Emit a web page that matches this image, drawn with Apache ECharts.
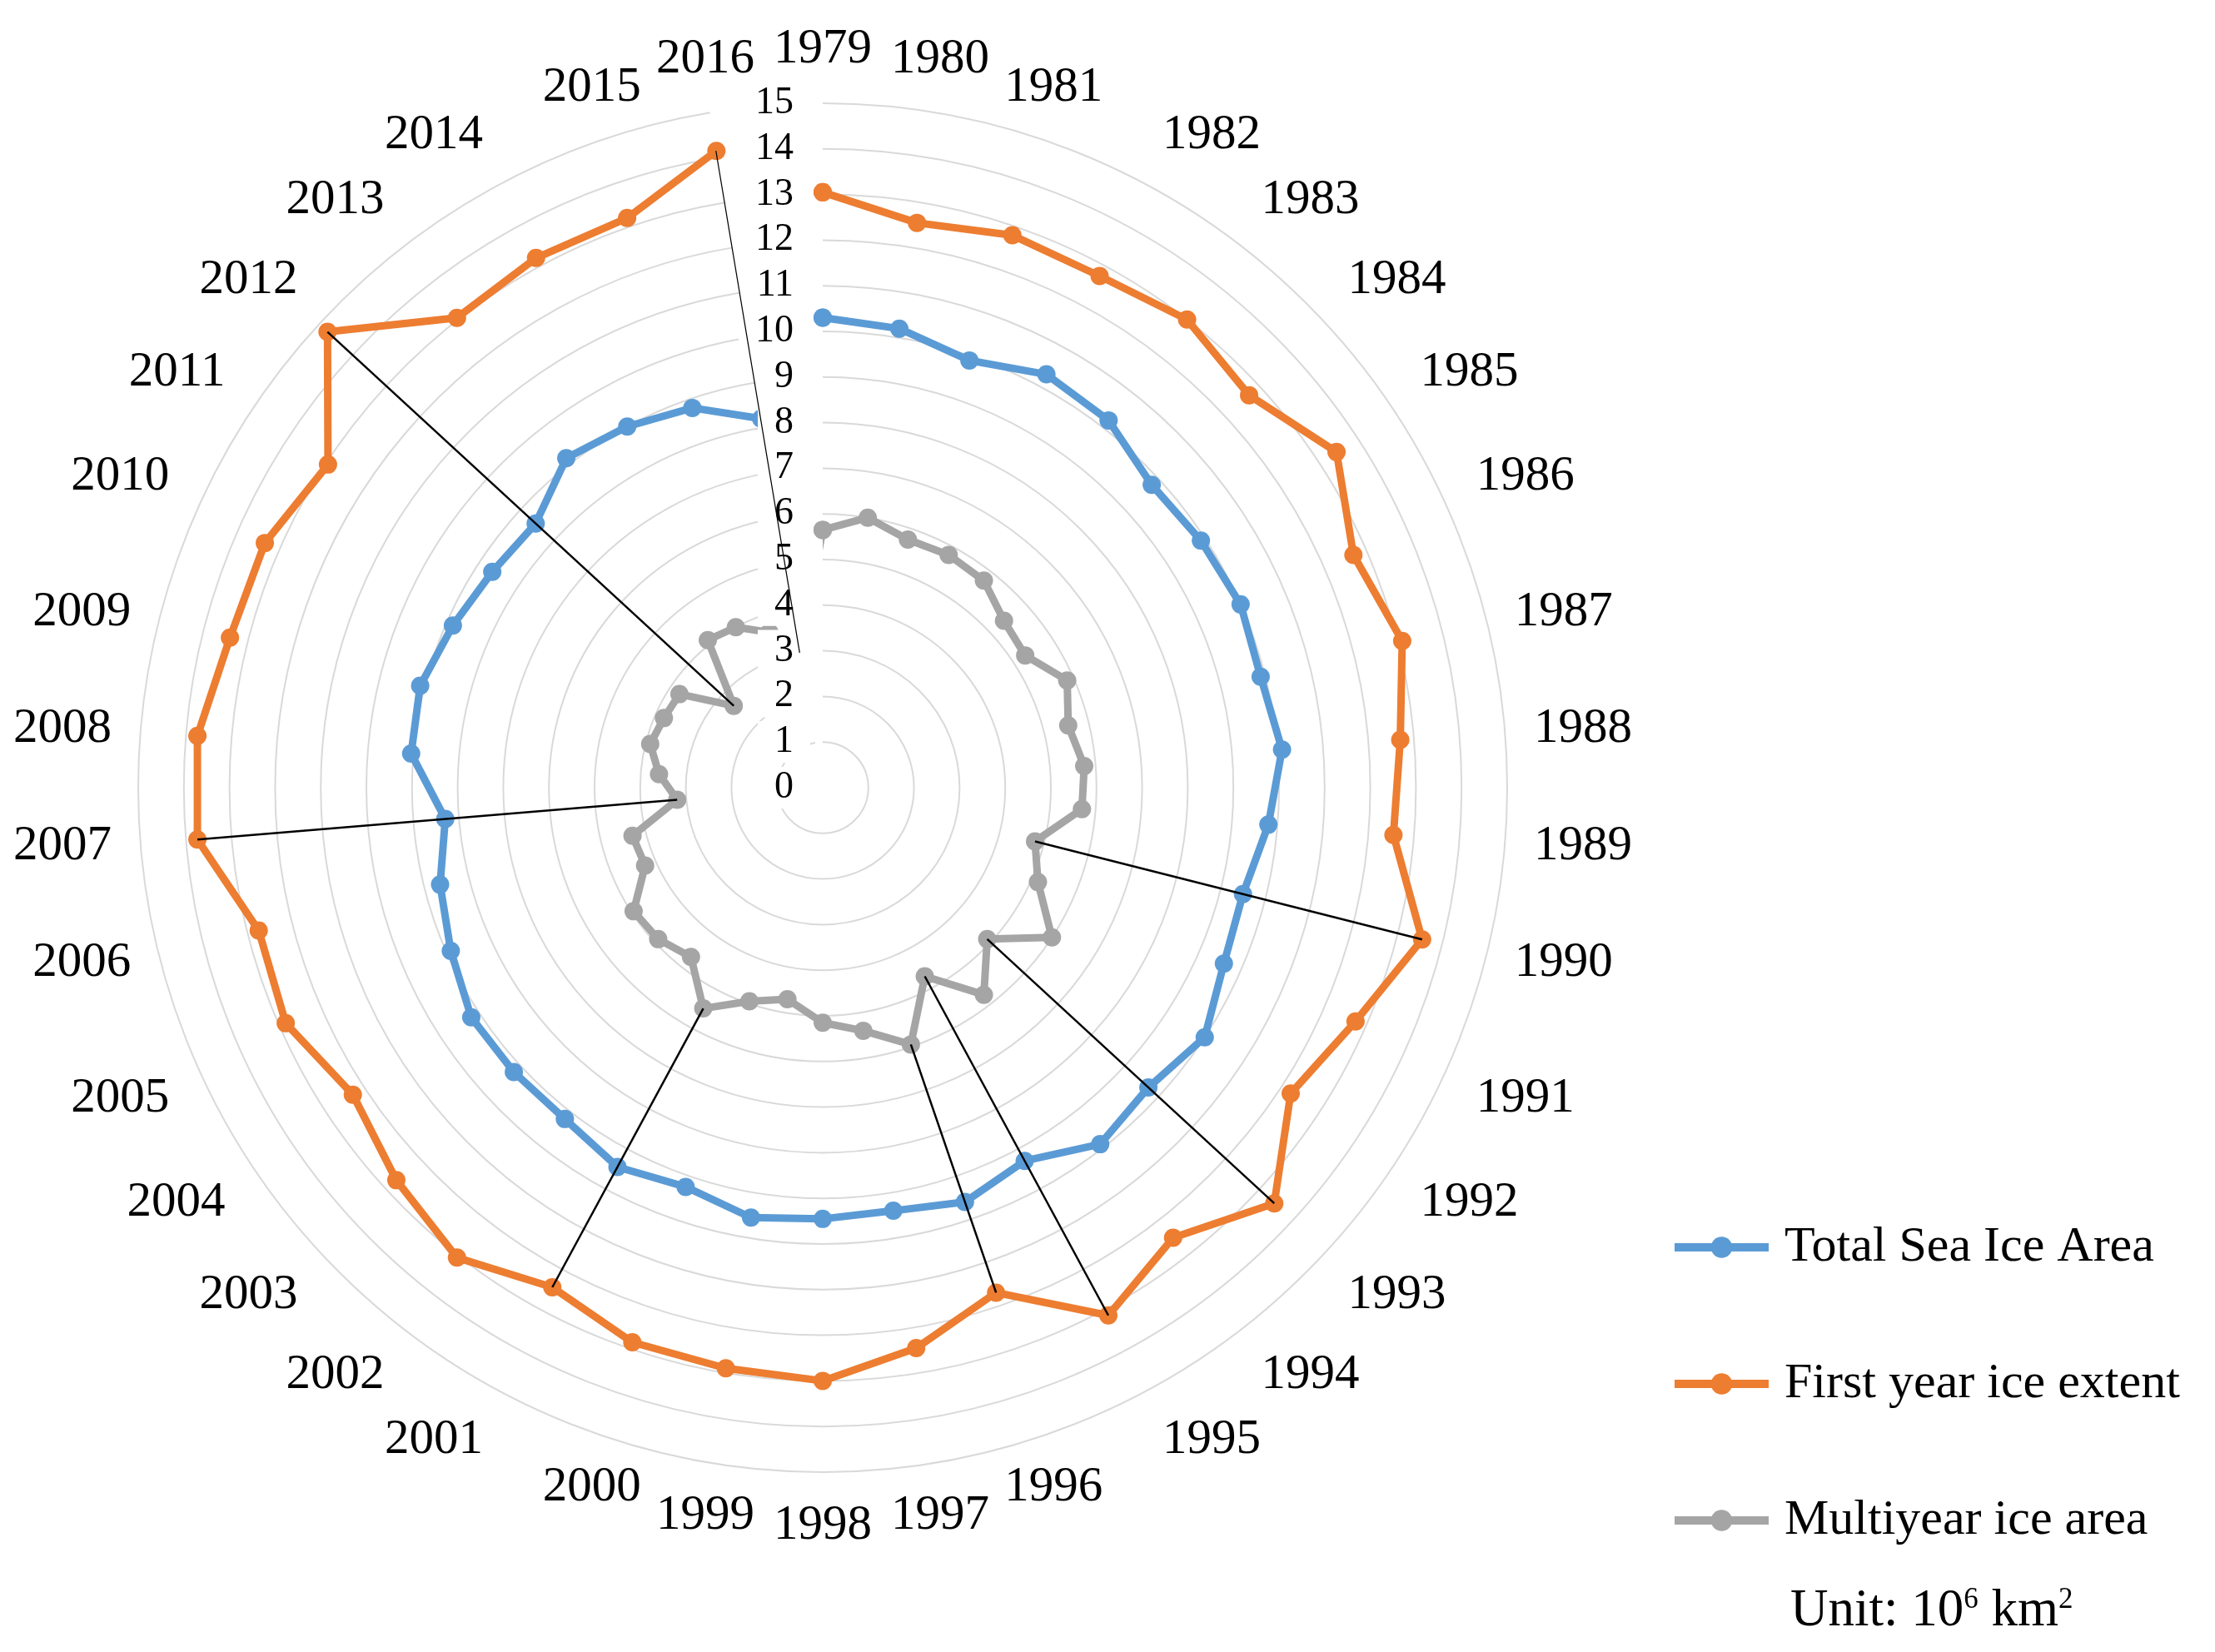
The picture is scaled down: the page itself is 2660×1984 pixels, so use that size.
<!DOCTYPE html>
<html>
<head>
<meta charset="utf-8">
<title>Sea ice area radar</title>
<script src="https://cdn.jsdelivr.net/npm/echarts@6/dist/echarts.min.js"></script>
<style>
	html, body { margin: 0; padding: 0; background: #fff; }
	#main { width: 2660px; height: 1984px; }
</style>
</head>
<body>
<div id="main"></div>
<script>
var years = ["1979","1980","1981","1982","1983","1984","1985","1986","1987","1988",
	"1989","1990","1991","1992","1993","1994","1995","1996","1997","1998",
	"1999","2000","2001","2002","2003","2004","2005","2006","2007","2008",
	"2009","2010","2011","2012","2013","2014","2015","2016"];

var totalArea = [10.3, 10.2, 9.9, 10.3, 10.2, 9.8, 9.9, 10.0, 9.9, 10.1,
	9.8, 9.5, 9.6, 10.0, 9.7, 9.9, 9.3, 9.6, 9.4, 9.45,
	9.55, 9.25, 9.45, 9.2, 9.2, 9.2, 8.9, 8.65, 8.3, 9.05,
	9.1, 8.85, 8.65, 8.55, 9.15, 9.0, 8.8, 8.2];

var firstYearExtent = [13.05, 12.55, 12.8, 12.75, 13.0, 12.7, 13.45, 12.7, 13.1, 12.7,
	12.55, 13.55, 12.75, 12.25, 13.45, 12.5, 13.15, 11.7, 12.45, 13.0,
	12.9, 12.85, 12.45, 13.05, 12.7, 12.3, 12.85, 12.75, 13.75, 13.75,
	13.4, 13.35, 12.95, 14.75, 13.05, 13.2, 13.2, 14.15];

var multiYearArea = [5.65, 6.0, 5.75, 5.8, 5.75, 5.4, 5.3, 5.85, 5.55, 5.75,
	5.7, 4.8, 5.15, 6.0, 4.9, 5.75, 4.7, 5.95, 5.4, 5.15,
	4.7, 4.95, 5.5, 4.7, 4.9, 4.95, 4.25, 4.3, 3.2, 3.6,
	3.9, 3.8, 3.75, 2.65, 4.1, 4.0, 3.6, 3.0];

// years joined by a thin black line from the first-year point to the multiyear point
var markedYears = ["1990","1993","1995","1996","2001","2007","2012","2016"];

var seriesNames = ["Total Sea Ice Area", "First year ice extent", "Multiyear ice area"];
var seriesColors = ["#5b9bd5", "#ed7d31", "#a5a5a5"];

(function(){

	var FONT = "'Liberation Serif', 'Times New Roman', serif";
	var CENTER = [988, 946];
	var RADIUS = 822;

	// [radius, categoryIndex] pairs, back to the first year to close the ring
	function closedRing(values){
		var pts = values.map(function(v, i){ return [v, i]; });
		pts.push([values[0], 0]);
		return pts;
	}

	// echarts snaps these four labels to left/right alignment, the original has them centred
	var nudge = { "1981": [0, 0, 0, -60], "1996": [0, 0, 0, -60], "2000": [0, -60, 0, 0], "2015": [0, -60, 0, 0] };
	var angleData = years.map(function(y){
		if(nudge[y]){
			return { value: y, textStyle: { padding: nudge[y] } };
		}
		return y;
	});

	var series = [totalArea, firstYearExtent, multiYearArea].map(function(values, k){
		return {
			name: seriesNames[k],
			type: "line",
			coordinateSystem: "polar",
			polarIndex: 0,
			data: closedRing(values),
			symbol: "circle",
			symbolSize: 22,
			showAllSymbol: true,
			lineStyle: { color: seriesColors[k], width: 9 },
			itemStyle: { color: seriesColors[k] },
			z: 2
		};
	});

	markedYears.forEach(function(y){
		var i = years.indexOf(y);
		series.push({
			name: "mark " + y,
			type: "line",
			coordinateSystem: "polar",
			polarIndex: 0,
			data: [[firstYearExtent[i], i], [multiYearArea[i], i]],
			symbol: "none",
			silent: true,
			lineStyle: { color: "#000", width: 2.5 },
			z: 12
		});
	});

	var option = {
		backgroundColor: "#fff",
		animation: false,
		polar: [
			{ center: CENTER, radius: RADIUS },
			{ center: CENTER, radius: RADIUS }
		],
		angleAxis: [
			{
				polarIndex: 0,
				type: "category",
				data: angleData,
				boundaryGap: false,
				startAngle: 90,
				clockwise: true,
				axisLine: { show: false },
				axisTick: { show: false },
				splitLine: { show: false },
				axisLabel: {
					interval: 0,
					hideOverlap: false,
					margin: 35,
					fontSize: 59,
					fontFamily: FONT,
					color: "#000"
				}
			},
			{
				polarIndex: 1,
				type: "category",
				data: years,
				boundaryGap: false,
				startAngle: 90,
				show: false
			}
		],
		radiusAxis: [
			{
				polarIndex: 0,
				type: "value",
				min: 0,
				max: 15,
				interval: 1,
				axisLine: { show: false },
				axisTick: { show: false },
				axisLabel: { show: false },
				splitLine: { show: true, lineStyle: { color: "#d9d9d9", width: 2 } }
			},
			{
				polarIndex: 1,
				type: "value",
				min: 0,
				max: 15,
				interval: 1,
				z: 10,
				axisLine: { show: false },
				axisTick: { show: false },
				splitLine: { show: false },
				axisLabel: {
					inside: true,
					margin: 15,
					fontSize: 46,
					fontFamily: FONT,
					color: "#000",
					backgroundColor: "#fff",
					lineHeight: 50,
					padding: [0, 20, 0, 20]
				}
			}
		],
		legend: {
			orient: "vertical",
			left: 2006,
			top: 1466,
			padding: 0,
			itemWidth: 113,
			itemHeight: 32,
			itemGap: 100,
			data: seriesNames,
			lineStyle: { width: 10 },
			textStyle: {
				fontFamily: FONT,
				fontSize: 60,
				color: "#000",
				lineHeight: 64,
				padding: [0, 0, 0, 14]
			}
		},
		graphic: [{
			type: "text",
			left: 2150,
			top: 1904,
			style: {
				text: "{a|Unit: 10}{s|6}{a| km}{s|2}",
				rich: {
					a: { fontFamily: FONT, fontSize: 63, lineHeight: 62, fill: "#000" },
					s: { fontFamily: FONT, fontSize: 35, lineHeight: 35, fill: "#000", verticalAlign: "top" }
				}
			}
		}],
		series: series
	};

	var chart = echarts.init(document.getElementById("main"));
	chart.setOption(option);

})();
</script>
</body>
</html>
